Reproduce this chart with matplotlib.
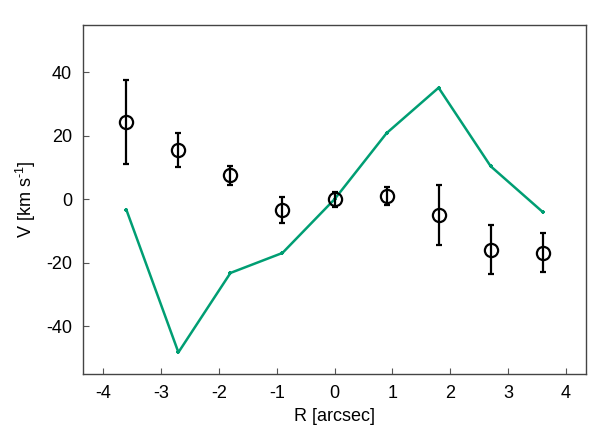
import matplotlib
matplotlib.use('Agg')
import matplotlib.pyplot as plt

plt.rcParams['font.family'] = ['Liberation Sans', 'DejaVu Sans']
plt.rcParams['axes.unicode_minus'] = False
plt.rcParams['mathtext.fontset'] = 'custom'
plt.rcParams['mathtext.rm'] = 'Liberation Sans'

# radius positions and velocities
r = [-3.6, -2.7, -1.8, -0.9, 0.0, 0.9, 1.8, 2.7, 3.6]
v_obs = [24.3, 15.5, 7.6, -3.4, 0.0, 0.9, -5.0, -15.9, -16.8]
v_err = [13.3, 5.4, 3.0, 4.2, 2.3, 2.8, 9.4, 7.7, 6.1]
v_model = [-3.3, -48.2, -23.2, -16.9, 0.0, 20.8, 35.1, 10.4, -4.0]

fig = plt.figure(figsize=(5.98, 4.44), dpi=100)
ax = fig.add_axes([0.1388, 0.1577, 0.8412, 0.7871])

ax.plot(r, v_model, color='#009e73', lw=1.8, marker='+', ms=3.5, mew=1.5)
ax.errorbar(r, v_obs, yerr=v_err, fmt='o', mfc='none', mec='black', ms=9.5,
            mew=1.6, ecolor='black', elinewidth=1.6, capsize=2.5, capthick=1.6)

ax.set_xlim(-4.35, 4.35)
ax.set_ylim(-55, 55)
ax.set_xticks([-4, -3, -2, -1, 0, 1, 2, 3, 4])
ax.set_yticks([-40, -20, 0, 20, 40])
ax.tick_params(direction='in', length=4, width=0.8, color='#555555',
               labelsize=13, pad=8)
for s in ax.spines.values():
    s.set_color('#444444')
    s.set_linewidth(1.0)

ax.set_xlabel('R [arcsec]', fontsize=13, labelpad=4)
ax.set_ylabel(r'V [km s$^{\text{-1}}$]', fontsize=13, labelpad=6)

fig.savefig('out.png', dpi=100)
